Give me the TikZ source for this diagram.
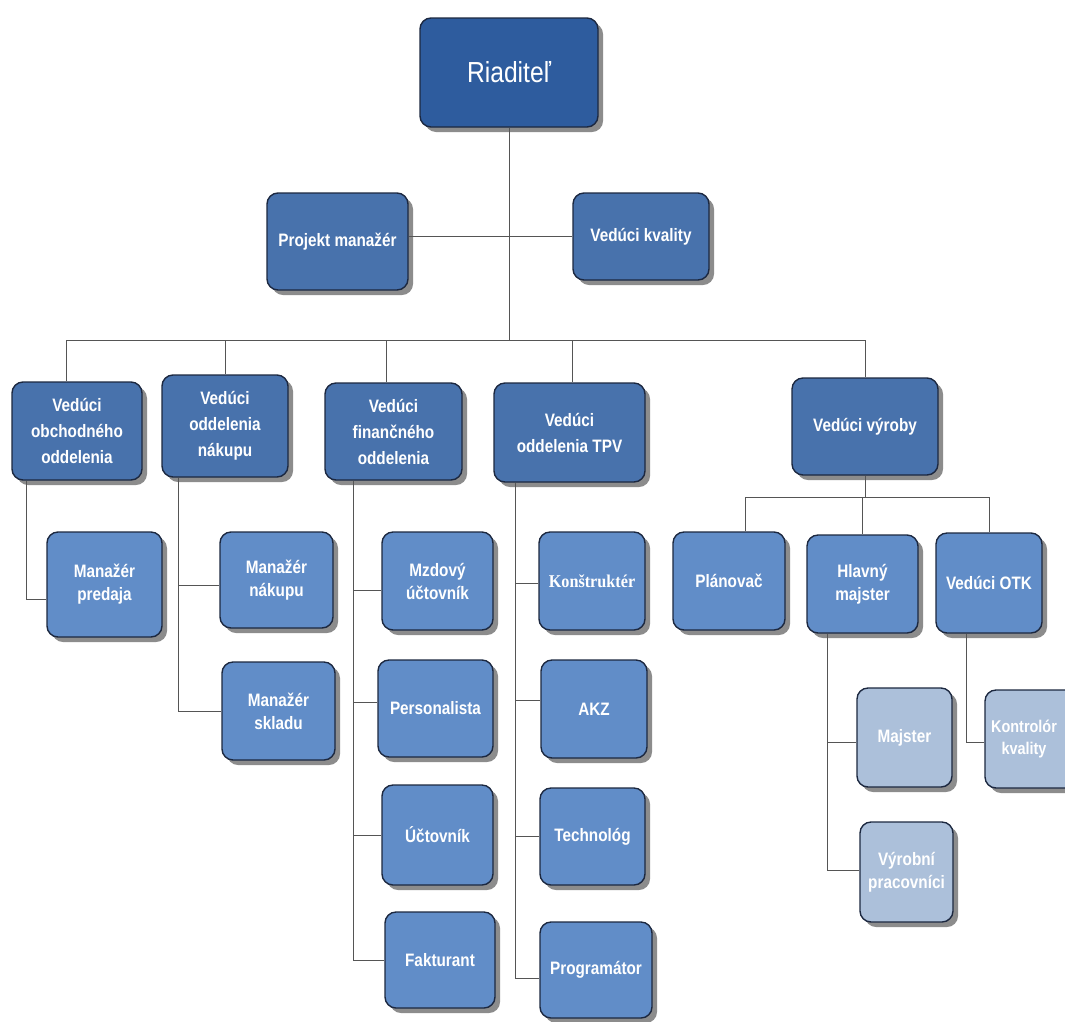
\documentclass[tikz,border=0pt]{standalone}
\usepackage{fontspec}
\setmainfont{Liberation Sans}[FakeStretch=0.85]
\newfontfamily\serifbox{Liberation Serif}[FakeStretch=0.9]
\usetikzlibrary{shadows}
\definecolor{topc}{RGB}{46,92,158}
\definecolor{headc}{RGB}{72,114,172}
\definecolor{childc}{RGB}{97,141,200}
\definecolor{lightc}{RGB}{172,192,218}
\definecolor{bordc}{RGB}{28,40,64}
\definecolor{linec}{RGB}{85,85,85}
\tikzset{
  orgbox/.style={draw=bordc, line width=1.4pt, rounded corners=11pt, text=white,
    font=\bfseries\fontsize{18}{23}\selectfont, align=center, inner sep=2pt,
    drop shadow={shadow xshift=5pt, shadow yshift=-5pt, fill=black!60, opacity=0.75}},
  topbox/.style={orgbox, fill=topc, font=\fontsize{29}{34}\selectfont},
  headbox/.style={orgbox, fill=headc, font=\bfseries\fontsize{18}{26}\selectfont},
  childbox/.style={orgbox, fill=childc},
  lightbox/.style={orgbox, fill=lightc},
  conn/.style={draw=linec, line width=1pt}
}
\begin{document}
\begin{tikzpicture}[x=1pt,y=-1pt]
\useasboundingbox (0,0) rectangle (1065,1021);
\clip (0,0) rectangle (1065,1021);
\fill[white] (0,0) rectangle (1065,1021);

% top
\node[topbox, minimum width=178pt, minimum height=109pt] (R) at (509,72.5) {Riaditeľ};
\node[headbox, minimum width=141pt, minimum height=97pt] (PM) at (337.5,241.5) {Projekt manažér};
\node[headbox, minimum width=136pt, minimum height=87pt] (VK) at (641,236.5) {Vedúci kvality};

% heads
\node[headbox, minimum width=130pt, minimum height=98pt] (obch) at (77,431) {Vedúci\\obchodného\\oddelenia};
\node[headbox, minimum width=126pt, minimum height=102pt] (nak) at (225,426) {Vedúci\\oddelenia\\nákupu};
\node[headbox, minimum width=137pt, minimum height=97pt] (fin) at (393.5,431.5) {Vedúci\\finančného\\oddelenia};
\node[headbox, minimum width=151pt, minimum height=99pt] (tpv) at (569.5,432.5) {Vedúci\\oddelenia TPV};
\node[headbox, minimum width=146pt, minimum height=97pt] (vv) at (865,426.5) {Vedúci výroby};

% children
\node[childbox, minimum width=115pt, minimum height=105pt] (mp) at (104.5,584.5) {Manažér\\predaja};
\node[childbox, minimum width=113pt, minimum height=96pt] (mn) at (276.5,580) {Manažér\\nákupu};
\node[childbox, minimum width=113pt, minimum height=98pt] (ms) at (278.5,711) {Manažér\\skladu};
\node[childbox, minimum width=111pt, minimum height=98pt] (mz) at (437.5,581) {Mzdový\\účtovník};
\node[childbox, minimum width=115pt, minimum height=97pt] (pers) at (435.5,708.5) {Personalista};
\node[childbox, minimum width=111pt, minimum height=100pt] (uct) at (437.5,835) {Účtovník};
\node[childbox, minimum width=110pt, minimum height=96pt] (fakt) at (440,960) {Fakturant};
\node[childbox, minimum width=106pt, minimum height=98pt, font=\serifbox\bfseries\fontsize{18}{23}\selectfont] (kon) at (592,581) {Konštruktér};
\node[childbox, minimum width=106pt, minimum height=98pt] (akz) at (594,709) {AKZ};
\node[childbox, minimum width=105pt, minimum height=97pt] (tech) at (592.5,836.5) {Technológ};
\node[childbox, minimum width=112pt, minimum height=96pt] (prog) at (596,970) {Programátor};
\node[childbox, minimum width=112pt, minimum height=98pt] (plan) at (729,581) {Plánovač};
\node[childbox, minimum width=111pt, minimum height=98pt] (hm) at (862.5,584) {Hlavný\\majster};
\node[childbox, minimum width=106pt, minimum height=100pt] (otk) at (989,583) {Vedúci OTK};
\node[lightbox, minimum width=95pt, minimum height=99pt] (maj) at (904.5,737.5) {Majster};
\node[lightbox, minimum width=96pt, minimum height=98pt, font=\bfseries\fontsize{17}{22}\selectfont] (kk) at (1033,739) {Kontrolór\hspace*{18pt}\\kvality\hspace*{18pt}};
\node[lightbox, minimum width=93pt, minimum height=100pt] (vp) at (906.5,872) {Výrobní\\pracovníci};

% connectors
\coordinate (b0) at (509,340);
\coordinate (sb) at (865,497);
\draw[conn] (R) -- (b0);
\draw[conn] (PM.east |- VK.west) -- (VK.west);
\draw[conn] (b0) -| ([xshift=-11pt]obch.north);
\draw[conn] (b0) -| (nak.north);
\draw[conn] (b0) -| ([xshift=-7pt]fin.north);
\draw[conn] (b0) -| ([xshift=3pt]tpv.north);
\draw[conn] (b0) -| (vv.north);
\draw[conn] (vv) -- (sb);
\draw[conn] (sb) -| ([xshift=16pt]plan.north);
\draw[conn] (sb) -| (hm.north);
\draw[conn] (sb) -| (otk.north);

\draw[conn] ([xshift=-51pt]obch.south) |- ([yshift=-15pt]mp.west);
\draw[conn] ([xshift=-47pt]nak.south) |- ([yshift=-5pt]mn.west);
\draw[conn] ([xshift=-47pt]nak.south) |- (ms.west);
\draw[conn] ([xshift=-40.5pt]fin.south) |- ([yshift=-9pt]mz.west);
\draw[conn] ([xshift=-40.5pt]fin.south) |- ([yshift=6.5pt]pers.west);
\draw[conn] ([xshift=-40.5pt]fin.south) |- (uct.west);
\draw[conn] ([xshift=-40.5pt]fin.south) |- (fakt.west);
\draw[conn] ([xshift=-54.5pt]tpv.south) |- ([yshift=-2pt]kon.west);
\draw[conn] ([xshift=-54.5pt]tpv.south) |- ([yshift=9pt]akz.west);
\draw[conn] ([xshift=-54.5pt]tpv.south) |- (tech.west);
\draw[conn] ([xshift=-54.5pt]tpv.south) |- ([yshift=-8pt]prog.west);
\draw[conn] ([xshift=-35.5pt]hm.south) |- ([yshift=-4.5pt]maj.west);
\draw[conn] ([xshift=-35.5pt]hm.south) |- ([yshift=2pt]vp.west);
\draw[conn] ([xshift=-23pt]otk.south) |- ([yshift=-3pt]kk.west);
\end{tikzpicture}
\end{document}
